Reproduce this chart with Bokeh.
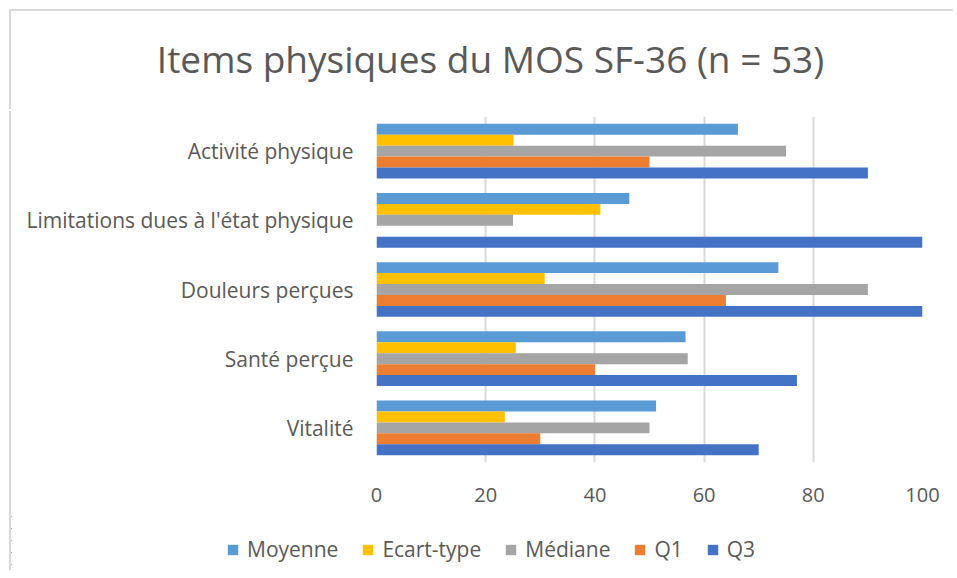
from bokeh.plotting import figure
from bokeh.layouts import column
from bokeh.models import Range1d, FactorRange, Legend, LegendItem, FixedTicker, Label, ColumnDataSource
from bokeh.transform import dodge
from bokeh.embed import file_html
from bokeh.resources import INLINE

title_text = "Items physiques du MOS SF-36 (n = 53)"
categories = ["Activité physique", "Limitations dues à l'état physique", "Douleurs perçues", "Santé perçue", "Vitalité"]
series_names = ["Moyenne", "Ecart-type", "Médiane", "Q1", "Q3"]
moyenne = [66.2, 46.3, 73.6, 56.6, 51.2]
ecart_type = [25.1, 41.0, 30.8, 25.5, 23.5]
mediane = [75, 25, 90, 57, 50]
q1 = [50, 0, 64, 40, 30]
q3 = [90, 100, 100, 77, 70]
x_ticks = [0, 20, 40, 60, 80, 100]
colors = ["#5B9BD5", "#FFC000", "#A5A5A5", "#ED7D31", "#4472C4"]

src = ColumnDataSource(dict(cat=categories, Moyenne=moyenne, Ecart=ecart_type,
                            Mediane=mediane, Q1=q1, Q3=q3))
cols = ["Moyenne", "Ecart", "Mediane", "Q1", "Q3"]

W = 944
edge = "#D9D9D9"

# title strip
p0 = figure(width=W, height=100, output_backend="svg", toolbar_location=None,
            x_range=Range1d(0, 1), y_range=Range1d(0, 1),
            min_border_left=0, min_border_right=0, min_border_top=0, min_border_bottom=0)
p0.frame_align = False
p0.axis.visible = False
p0.grid.grid_line_color = None
p0.outline_line_color = None
p0.border_fill_color = "white"
p0.add_layout(Label(x=479, y=53, x_units="screen", y_units="screen", text=title_text,
                    text_align="center", text_baseline="alphabetic",
                    text_font="Open Sans", text_font_size="37px", text_color="#595959"))
p0.styles = {"box-shadow": f"-2px -2px 0 0 {edge}"}

# main chart
p = figure(width=W, height=399, output_backend="svg", toolbar_location=None,
           y_range=FactorRange(factors=list(reversed(categories)), range_padding=0),
           x_range=Range1d(0, 100),
           min_border_left=365, min_border_right=33, min_border_top=5, min_border_bottom=48)
p.frame_align = False
p.outline_line_color = None
p.background_fill_color = "white"
p.border_fill_color = "white"
p.styles = {"border-left": f"2px solid {edge}", "margin-left": "-2px"}

bh = 0.158
offsets = [2 * bh, bh, 0, -bh, -2 * bh]
for col, off, c in zip(cols, offsets, colors):
    p.hbar(y=dodge("cat", off, range=p.y_range), left=0, right=col, height=bh,
           fill_color=c, line_color=None, source=src)

p.xaxis.ticker = FixedTicker(ticks=x_ticks)
p.xaxis.axis_line_color = None
p.xaxis.major_tick_line_color = None
p.xaxis.minor_tick_line_color = None
p.xaxis.major_label_text_font = "Open Sans"
p.xaxis.major_label_text_font_size = "20px"
p.xaxis.major_label_text_color = "#595959"
p.xaxis.major_label_standoff = 19

p.yaxis.axis_line_color = None
p.yaxis.major_tick_line_color = None
p.yaxis.major_label_text_font = "Open Sans"
p.yaxis.major_label_text_font_size = "21px"
p.yaxis.major_label_text_color = "#595959"
p.yaxis.major_label_standoff = 17

p.xgrid.grid_line_color = edge
p.xgrid.grid_line_width = 2
p.ygrid.grid_line_color = None

# legend strip (its renderers use the same data but lie outside its visible range)
p2 = figure(width=W, height=60, output_backend="svg", toolbar_location=None,
            x_range=Range1d(1000, 1001), y_range=FactorRange(factors=list(reversed(categories))),
            min_border_left=0, min_border_right=0, min_border_top=0, min_border_bottom=0)
p2.frame_align = False
p2.axis.visible = False
p2.grid.grid_line_color = None
p2.outline_line_color = None
p2.border_fill_color = "white"
p2.styles = {"box-shadow": f"-2px 0 0 0 {edge}"}
leg_renderers = []
for col, c in zip(cols, colors):
    r = p2.hbar(y="cat", right=col, left=0, height=0.1, fill_color=c, line_color=None, source=src)
    leg_renderers.append(r)

legend = Legend(items=[LegendItem(label=n, renderers=[r]) for n, r in zip(series_names, leg_renderers)],
                orientation="horizontal", location=(215, 7), margin=0, padding=6,
                label_text_font="Open Sans", label_text_font_size="21px", label_text_color="#595959",
                glyph_width=13, glyph_height=13, label_standoff=8, spacing=23,
                border_line_color=None, background_fill_alpha=0)
p2.add_layout(legend, "center")

layout = column(p0, p, p2, spacing=0)
layout.styles = {"margin-left": "11px", "margin-top": "11px"}

open("out.html", "w").write(file_html(layout, INLINE))
